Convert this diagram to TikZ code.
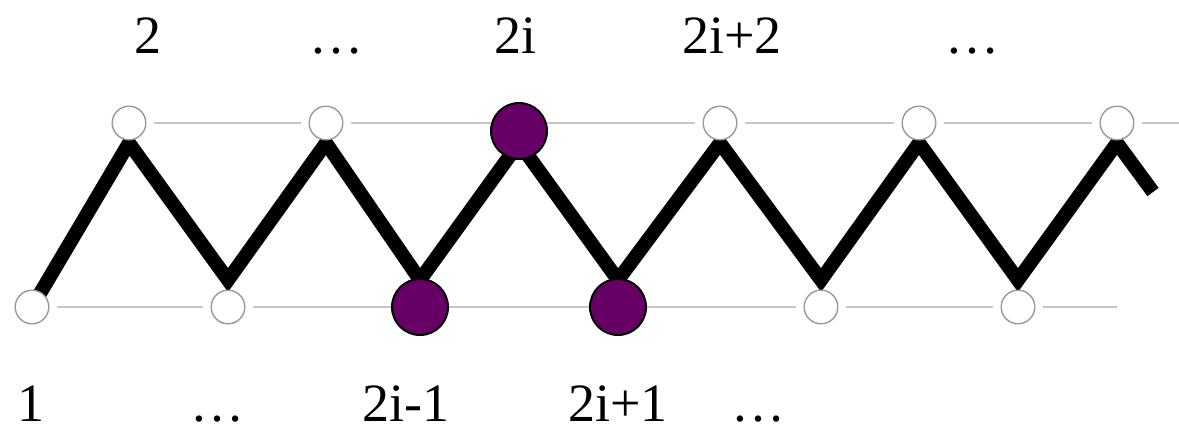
\documentclass[tikz,border=0pt]{standalone}
\usepackage{fontspec}
\setmainfont{Liberation Serif}
\usetikzlibrary{backgrounds}
\definecolor{selpurple}{HTML}{660066}

\begin{document}
\begin{tikzpicture}[x=0.5pt, y=-0.5pt,
    vtx/.style={circle, draw=gray!80, fill=white, line width=0.7pt, minimum size=16.8pt, inner sep=0pt, outer sep=4.25pt},
    sel/.style={circle, draw=black, fill=selpurple, line width=1pt, minimum size=28pt, inner sep=0pt},
    rail/.style={draw=gray!45, line width=1pt},
    chain/.style={line width=7pt},
    lbl/.style={anchor=base, inner sep=0pt, text depth=0pt},
    font=\fontsize{27}{32}\selectfont]
  \useasboundingbox (0,0) rectangle (1179,430);
  % lower row
  \node[vtx] (b1) at (32,307) {};
  \node[vtx] (b2) at (228,307) {};
  \node[sel] (b3) at (420,307) {};
  \node[sel] (b4) at (618,307) {};
  \node[vtx] (b5) at (821,307) {};
  \node[vtx] (b6) at (1018,307) {};
  % upper row
  \node[vtx] (t1) at (129,123) {};
  \node[vtx] (t2) at (326,123) {};
  \node[sel] (t3) at (519,131) {};
  \node[vtx] (t4) at (720,123) {};
  \node[vtx] (t5) at (919,123) {};
  \node[vtx] (t6) at (1117,123) {};
  \coordinate (bend) at (1117,307);
  \coordinate (tend) at (1179,123);
  \coordinate (zlo) at (0,280);
  \coordinate (zhi) at (0,143);
  \coordinate (zend) at (1153,192);
  % labels
  \node[lbl] (top2) at (148,53) {2};
  \node[lbl] (topdots) at (336,53) {…};
  \node[lbl] (top2i) at (515,53) {2i};
  \node[lbl] (top2ip) at (732,53) {2i+2};
  \node[lbl] (topdotsr) at (972,53) {…};
  \node[lbl] (bot1) at (31.5,421) {1};
  \node[lbl] (botdots) at (217,421) {…};
  \node[lbl] (bot2im) at (406,421) {2i-1};
  \node[lbl] (bot2ip) at (618,421) {2i+1};
  \node[lbl] (botdotsr) at (758,421) {…};
  \begin{pgfonlayer}{background}
    \path[rail]
      (b1) edge (b2)
      (b2) edge (b3)
      (b3) edge (b4)
      (b4) edge (b5)
      (b5) edge (b6)
      (b6) edge (bend)
      (t1) edge (t2)
      (t2) edge (t3 |- t2)
      (t3 |- t2) edge (t4)
      (t4) edge (t5)
      (t5) edge (t6)
      (t6) edge (tend);
    \draw[chain] (b1.center) -- (t1 |- zhi) -- (b2 |- zlo) -- (t2 |- zhi) -- (b3 |- zlo)
      -- (t3 |- zhi) -- (b4 |- zlo) -- (t4 |- zhi) -- (b5 |- zlo) -- (t5 |- zhi)
      -- (b6 |- zlo) -- (t6 |- zhi) -- (zend);
  \end{pgfonlayer}
\end{tikzpicture}
\end{document}
